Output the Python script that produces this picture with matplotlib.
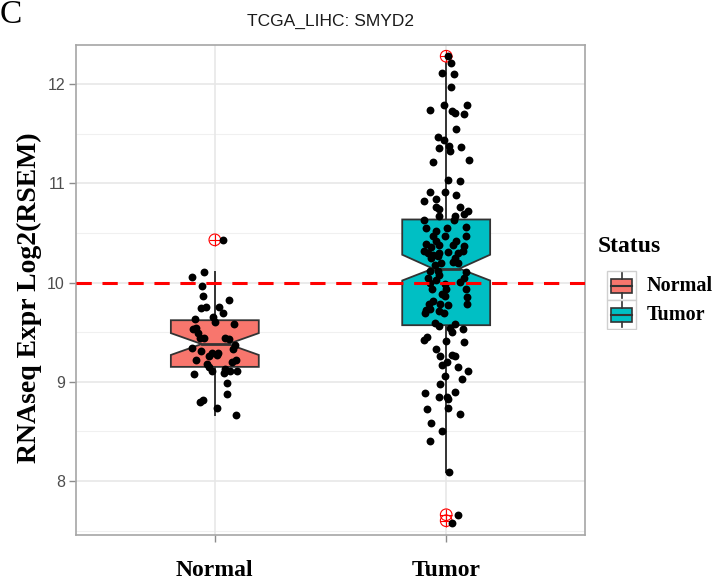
import matplotlib
matplotlib.use("Agg")
import matplotlib.pyplot as plt
from matplotlib.patches import Polygon, Rectangle

# ---------------- data ----------------
categories = ["Normal", "Tumor"]
fill_colors = ["#F8766D", "#00BFC4"]
title = "TCGA_LIHC: SMYD2"
y_label = "RNAseq Expr Log2(RSEM)"
legend_title = "Status"
y_ticks = [8, 9, 10, 11, 12]
threshold = 10

q1 = [9.15, 9.57]
median = [9.38, 10.14]
q3 = [9.62, 10.635]
notch_lo = [9.27, 10.02]
notch_hi = [9.49, 10.28]
whisker_lo = [8.67, 8.09]
whisker_hi = [10.11, 12.21]
outliers = [[10.43], [12.28, 7.66, 7.60]]

normal_y = [10.43, 10.06, 10.11, 9.96, 9.86, 9.82, 9.74, 9.755, 9.755, 9.69, 9.65, 9.60,
            9.63, 9.58, 9.54, 9.53, 9.49, 9.44, 9.44, 9.44, 9.43, 9.375, 9.34, 9.335,
            9.285, 9.29, 9.31, 9.265, 9.26, 9.22, 9.22, 9.20, 9.18, 9.15, 9.13, 9.11,
            9.11, 9.11, 9.08, 9.09, 8.99, 8.88, 8.80, 8.815, 8.74, 8.67]
normal_dx = [0.037, -0.097, -0.048, -0.057, -0.050, 0.061, -0.060, -0.039, 0.018, 0.034, -0.009, 0.001,
             -0.086, 0.084, -0.083, -0.093, -0.074, -0.064, -0.045, 0.044, 0.061, 0.087, -0.100, 0.080,
             -0.013, 0.015, -0.060, 0.008, -0.024, -0.083, 0.090, 0.073, -0.035, -0.024, 0.044, 0.066,
             0.095, -0.011, -0.091, 0.041, 0.051, 0.054, -0.063, -0.050, 0.008, 0.090]

tumor_y = [12.28, 12.21, 12.11, 12.10, 11.97, 11.74, 11.79, 11.73, 11.71, 11.79, 11.70, 11.55,
           11.47, 11.44, 11.36, 11.38, 11.33, 11.37, 11.21, 11.23,
           11.03, 11.02, 10.91, 10.91, 10.88, 10.82, 10.84, 10.76, 10.74, 10.76, 10.72, 10.69,
           10.67, 10.67, 10.63, 10.63, 10.55, 10.55, 10.52, 10.56, 10.47, 10.47, 10.47, 10.42,
           10.39, 10.42, 10.32, 10.36, 10.38, 10.38, 10.37, 10.30, 10.28, 10.30, 10.31, 10.30,
           10.32, 10.25, 10.27, 10.25, 10.20, 10.21, 10.20, 10.18, 10.12, 10.12, 10.08, 10.11,
           10.05, 10.05, 10.03,
           10.00, 9.98, 10.01, 9.93, 9.93, 9.93, 9.86, 9.88, 9.85, 9.78, 9.81, 9.78, 9.78,
           9.72, 9.73, 9.71, 9.69, 9.69, 9.77, 9.59, 9.56, 9.58, 9.54, 9.53, 9.50, 9.45,
           9.42, 9.41, 9.40, 9.33, 9.26, 9.27, 9.26, 9.20, 9.17, 9.15, 9.11, 9.06, 9.03,
           8.98, 8.90, 8.89, 8.85, 8.85,
           8.83, 8.73, 8.74, 8.68, 8.58, 8.50, 8.40, 8.09, 7.66, 7.58]
tumor_dx = [0.007, 0.020, -0.016, 0.032, 0.020, -0.069, -0.009, 0.027, 0.039, 0.092, 0.079, 0.042,
            -0.037, -0.009, -0.030, 0.014, 0.017, 0.063, -0.058, 0.097,
            0.010, 0.061, -0.072, -0.007, 0.043, -0.094, -0.046, -0.043, -0.029, 0.058, 0.094, 0.079,
            -0.029, 0.036, -0.094, 0.033, -0.089, 0.004, -0.043, 0.086, -0.058, -0.003, 0.086, 0.043,
            -0.086, -0.043, -0.094, -0.065, -0.029, 0.029, 0.079, -0.079, -0.058, -0.029, 0.007, 0.050,
            0.072, -0.065, -0.036, 0.036, 0.050, 0.029, -0.022, -0.050, -0.072, -0.036, -0.029, 0.086,
            0.079, -0.079, -0.043,
            -0.069, -0.004, 0.061, -0.062, 0.000, 0.085, -0.004, -0.019, 0.089, -0.076, -0.055, -0.026, 0.089,
            -0.086, -0.069, -0.033, -0.009, -0.091, 0.010, -0.048, -0.033, 0.039, 0.017, 0.072, 0.024, -0.084,
            -0.095, 0.000, 0.078, -0.043, -0.026, 0.024, 0.039, 0.003, -0.019, 0.050, 0.094, -0.004, 0.068,
            -0.026, 0.039, -0.091, -0.029, 0.003,
            0.010, -0.084, 0.007, 0.058, -0.066, -0.016, -0.069, 0.014, 0.053, 0.024]

points_y = [normal_y, tumor_y]
points_dx = [normal_dx, tumor_dx]

# ---------------- figure ----------------
W, H = 718, 581
DPI = 100
fig = plt.figure(figsize=(W / DPI, H / DPI), dpi=DPI)
fig.patch.set_facecolor("white")

def fx(px):
    return px / W

def fy(py):
    return 1 - py / H

L, R, T, B = 76, 585, 45, 535
ax = fig.add_axes([fx(L), fy(B), fx(R) - fx(L), fy(T) - fy(B)])

SANS = ["Liberation Sans", "DejaVu Sans"]
SERIF = ["Liberation Serif", "DejaVu Serif"]
EDGE = "#333333"

positions = [1, 2]
half_w = 0.19
notch_frac = 0.3

ax.set_xlim(0.4, 2.6)
ax.set_ylim(7.456, 12.393)

# grid
for v in [7.5, 8.5, 9.5, 10.5, 11.5]:
    ax.axhline(v, color="#f0f0f0", lw=0.8, zorder=0)
for v in y_ticks:
    ax.axhline(v, color="#e6e6e6", lw=1.1, zorder=0)
for p in positions:
    ax.axvline(p, color="#e6e6e6", lw=1.1, zorder=0)

for i, p in enumerate(positions):
    hi = half_w * notch_frac
    ax.plot([p, p], [q3[i], whisker_hi[i]], color=EDGE, lw=1.4, zorder=2)
    ax.plot([p, p], [q1[i], whisker_lo[i]], color=EDGE, lw=1.4, zorder=2)
    verts = [(p - half_w, q1[i]), (p + half_w, q1[i]), (p + half_w, notch_lo[i]),
             (p + hi, median[i]), (p + half_w, notch_hi[i]), (p + half_w, q3[i]),
             (p - half_w, q3[i]), (p - half_w, notch_hi[i]), (p - hi, median[i]),
             (p - half_w, notch_lo[i])]
    ax.add_patch(Polygon(verts, closed=True, facecolor=fill_colors[i],
                         edgecolor=EDGE, lw=1.3, zorder=3))
    ax.plot([p - hi, p + hi], [median[i], median[i]], color=EDGE, lw=2.0, zorder=3.5)
    ox = [p] * len(outliers[i])
    ax.scatter(ox, outliers[i], s=70, facecolors="none", edgecolors="red", lw=0.8, zorder=4)
    ax.scatter(ox, outliers[i], s=70, marker="+", color="red", lw=0.8, zorder=4)
    xs = [p + d for d in points_dx[i]]
    ax.scatter(xs, points_y[i], s=32, color="black", lw=0, zorder=5)

ax.axhline(threshold, color="#ff0000", lw=2.2, ls=(0, (5, 3.5)), zorder=6)

for s in ax.spines.values():
    s.set_color("#a6a6a6")
    s.set_linewidth(1.2)

ax.set_yticks(y_ticks)
ax.set_yticklabels([str(t) for t in y_ticks], family=SANS, fontsize=11.5, color="#4d4d4d")
ax.set_xticks(positions)
ax.set_xticklabels(categories, family=SERIF, fontsize=17, fontweight="bold", color="black")
ax.tick_params(axis="y", length=5, width=1.0, color="#8c8c8c", pad=3)
ax.tick_params(axis="x", length=5, width=1.0, color="#8c8c8c", pad=13)

fig.text(fx((L + R) / 2), fy(21), title, family=SANS, fontsize=12.5,
         ha="center", va="center", color="#1a1a1a")
fig.text(fx(29), fy(298), y_label, family=SERIF, fontsize=20, fontweight="bold",
         rotation=90, ha="center", va="center")
fig.text(fx(0), fy(15), "C", family=SERIF, fontsize=24, ha="left", va="center")

# legend
fig.text(fx(598), fy(246), legend_title, family=SERIF, fontsize=17, fontweight="bold",
         ha="left", va="center")
lax = fig.add_axes([fx(606), fy(330), fx(638) - fx(606), fy(270) - fy(330)])
lax.set_xlim(606, 638)
lax.set_ylim(330, 270)
lax.axis("off")
key_tops = [271, 300]
for i, kt in enumerate(key_tops):
    lax.add_patch(Rectangle((607, kt), 29, 29, facecolor="white", edgecolor="#d0d0d0", lw=1.0))
    cx = 621.5
    lax.plot([cx, cx], [kt + 2, kt + 8], color=EDGE, lw=1.2)
    lax.plot([cx, cx], [kt + 22, kt + 27], color=EDGE, lw=1.2)
    lax.add_patch(Rectangle((611, kt + 8), 21, 14, facecolor=fill_colors[i], edgecolor=EDGE, lw=1.2))
    lax.plot([611, 632], [kt + 15, kt + 15], color=EDGE, lw=1.5)
    fig.text(fx(647), fy(kt + 15), categories[i], family=SERIF, fontsize=14.5,
             fontweight="bold", ha="left", va="center")

fig.savefig("out.png", dpi=DPI, facecolor="white")
